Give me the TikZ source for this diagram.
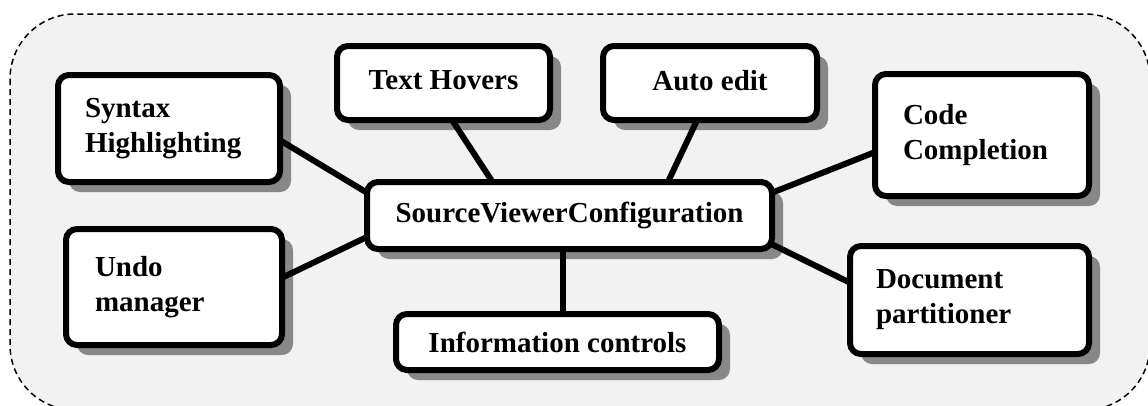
\documentclass[tikz,border=0pt]{standalone}
\usepackage{fontspec}
\setmainfont{Liberation Serif}
\usetikzlibrary{shadows,calc}
\definecolor{bggray}{HTML}{F2F2F2}
\definecolor{shgray}{HTML}{888888}
\begin{document}
\begin{tikzpicture}[x=1pt,y=-1pt,
  box/.style={draw=black, line width=6pt, fill=white, rounded corners=11pt,
    outer sep=0pt, inner xsep=0pt, inner ysep=0pt,
    font=\fontsize{29}{35}\selectfont\bfseries,
    drop shadow={shadow xshift=11pt,shadow yshift=-10pt,fill=shgray,opacity=1}},
  multi/.style={align=left},
  conn/.style={draw=black, line width=6pt},
  region/.style={draw=black, line width=1.5pt, dash pattern=on 6pt off 4pt,
    fill=bggray, rounded corners=65pt}]
\useasboundingbox (0,0) rectangle (1148,405);
\clip (0,0) rectangle (1148,405);
\path[region] (10,14) rectangle (1150,410);

\node[box, multi, minimum width=222pt, minimum height=107pt, text width=168pt] (syn) at (169,128.5) {Syntax\\Highlighting};
\node[box, minimum width=213pt, minimum height=74pt, text depth=6pt] (hov) at (443.5,83) {Text Hovers};
\node[box, minimum width=214pt, minimum height=74pt, text depth=6pt] (auto) at (710,83) {Auto edit};
\node[box, multi, minimum width=214pt, minimum height=122pt, text width=158pt] (code) at (982,135) {Code\\Completion};
\node[box, minimum width=405pt, minimum height=67pt] (svc) at (569.5,215.5) {SourceViewerConfiguration};
\node[box, multi, minimum width=216pt, minimum height=116pt, text width=158pt] (undo) at (174,287) {Undo\\manager};
\node[box, minimum width=323pt, minimum height=56pt] (info) at (557.5,342) {Information controls};
\node[box, multi, minimum width=239pt, minimum height=108pt, text width=187pt] (doc) at (969.5,300) {Document\\partitioner};

\draw[conn] ($(syn.north east)!0.61!(syn.south east)$) -- ($(svc.north west)!0.16!(svc.south west)$);
\draw[conn] ($(undo.north east)!0.42!(undo.south east)$) -- ($(svc.north west)!0.82!(svc.south west)$);
\draw[conn] ($(hov.south west)!0.54!(hov.south east)$) -- ($(svc.north west)!0.31!(svc.north east)$);
\draw[conn] ($(auto.south west)!0.44!(auto.south east)$) -- ($(svc.north west)!0.743!(svc.north east)$);
\draw[conn] ($(code.north west)!0.64!(code.south west)$) -- ($(svc.north east)!0.16!(svc.south east)$);
\draw[conn] ($(doc.north west)!0.34!(doc.south west)$) -- ($(svc.north east)!0.93!(svc.south east)$);
\coordinate (ic) at ($(info.north)+(5.5,0)$);
\draw[conn] (ic) -- (ic |- svc.south);
\end{tikzpicture}
\end{document}
